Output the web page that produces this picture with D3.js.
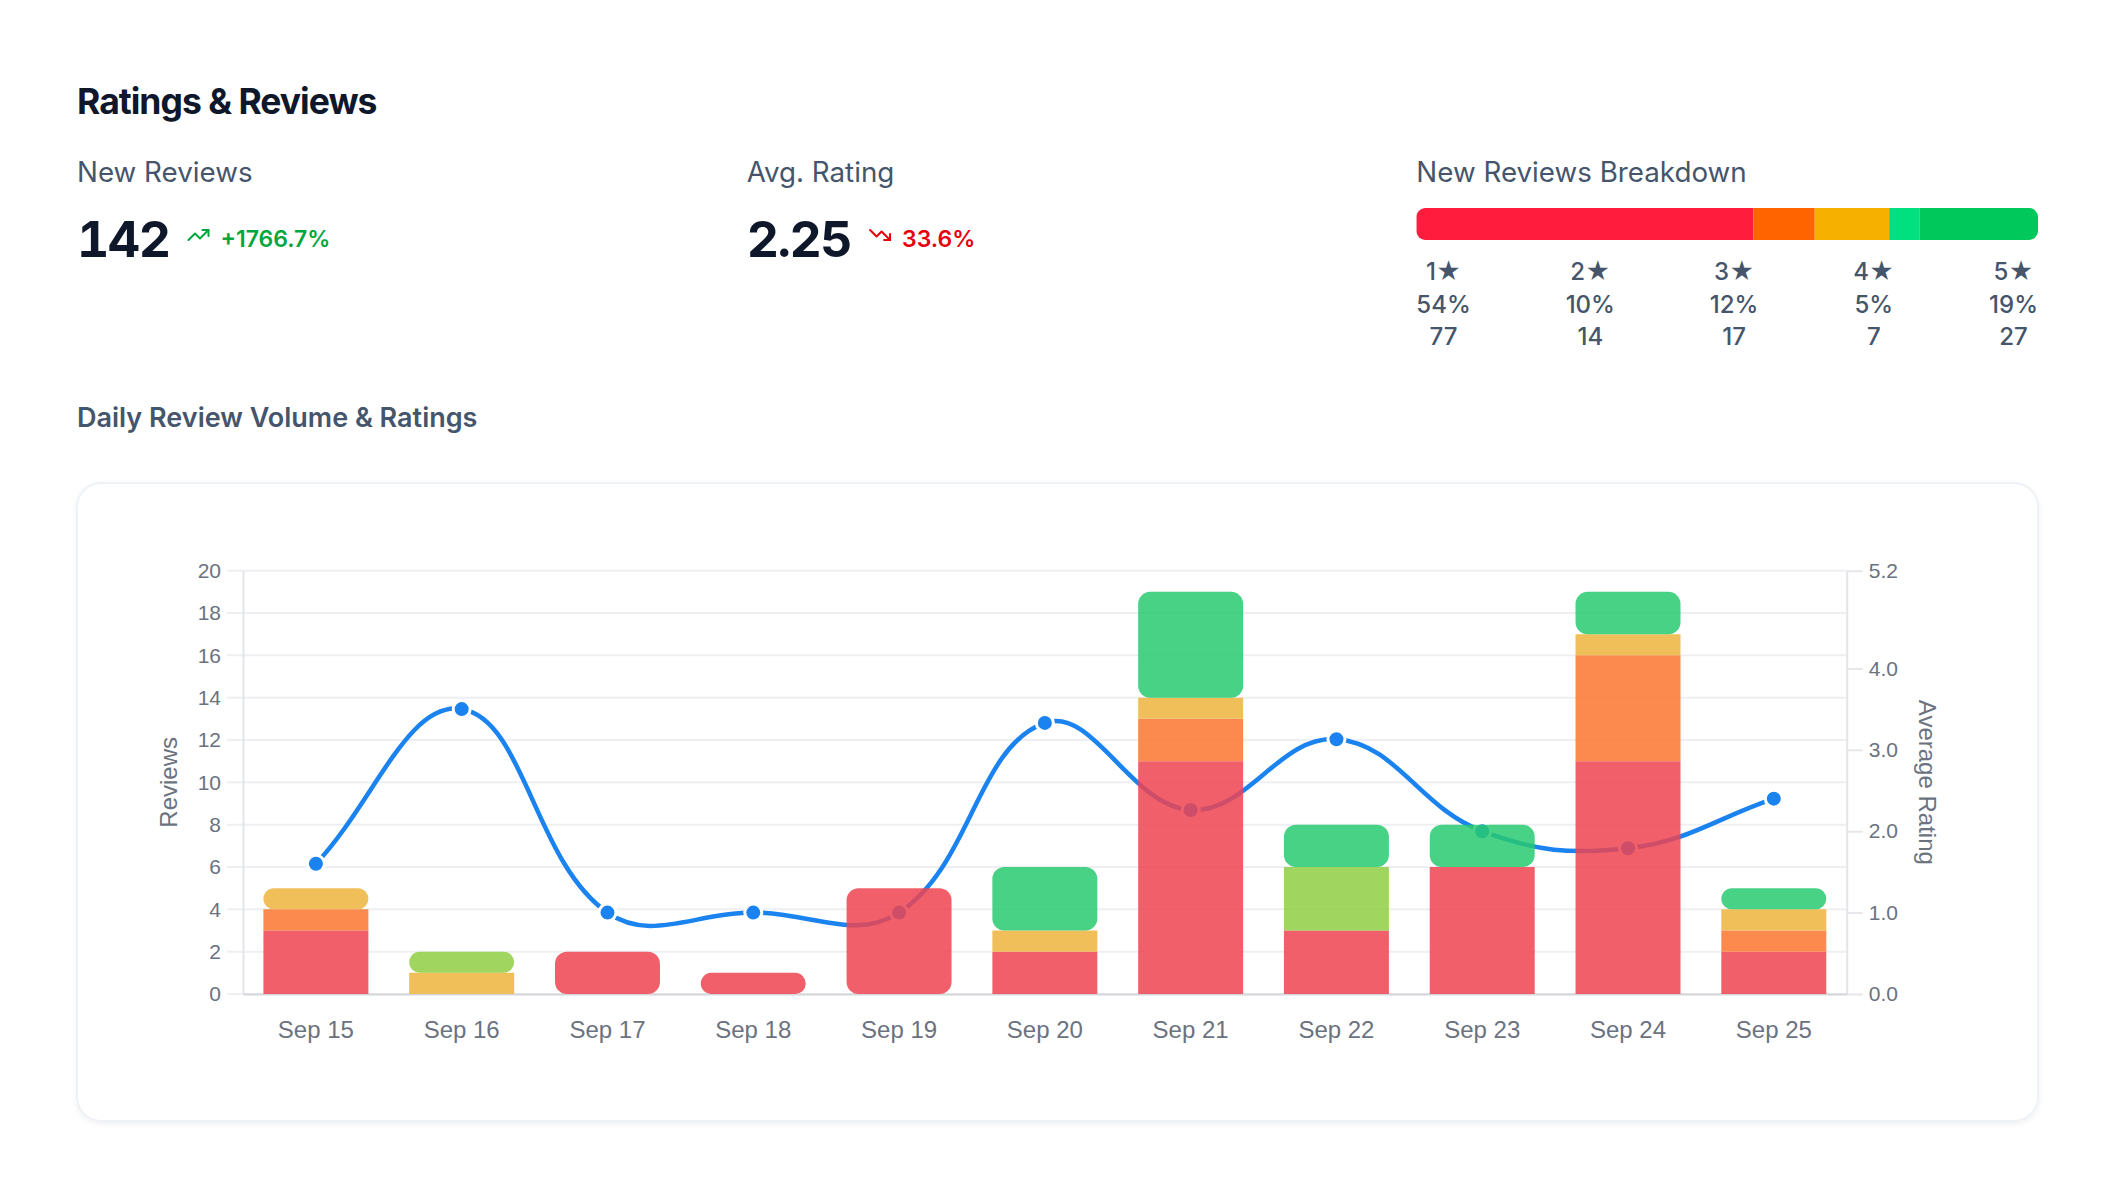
<!DOCTYPE html>
<html>
<head>
<meta charset="utf-8">
<script src="https://cdn.jsdelivr.net/npm/d3@7"></script>
<style>
  html, body { margin: 0; padding: 0; background: #fff; }
  svg { display: block; }
  .hdr { font-family: Inter, "Noto Sans", sans-serif; }
  .num { font-variant-numeric: tabular-nums; }
  .cj { font-family: "Helvetica Neue", Helvetica, Arial, "Liberation Sans", sans-serif; }
</style>
</head>
<body>
<svg id="page" width="2112" height="1196"></svg>
<script>
"use strict";

// daily data
let days = ['Sep 15', 'Sep 16', 'Sep 17', 'Sep 18', 'Sep 19', 'Sep 20', 'Sep 21', 'Sep 22', 'Sep 23', 'Sep 24', 'Sep 25'];
let oneStar   = [3, 0, 2, 1, 5, 2, 11, 3, 6, 11, 2];
let twoStar   = [1, 0, 0, 0, 0, 0, 2, 0, 0, 5, 1];
let threeStar = [1, 1, 0, 0, 0, 1, 1, 0, 0, 1, 1];
let fourStar  = [0, 1, 0, 0, 0, 0, 0, 3, 0, 0, 0];
let fiveStar  = [0, 0, 0, 0, 0, 3, 5, 2, 2, 2, 1];
let avgRating = [1.6, 3.5, 1.0, 1.0, 1.0, 3.33, 2.26, 3.13, 2.0, 1.79, 2.4];

// breakdown
let starLabels = ['1★', '2★', '3★', '4★', '5★'];
let starCounts = [77, 14, 17, 7, 27];
let barColors = ['rgb(239,68,80)', 'rgb(252,118,48)', 'rgb(238,180,61)', 'rgb(143,207,68)', 'rgb(40,202,113)'];
let breakColors = ['#ff1c3c', '#ff6400', '#f5b000', '#00e07e', '#00c85a'];

let leftTicks = d3.range(0, 21, 2);
let rightTicks = [0, 1, 2, 3, 4, 5.2];

let svg = d3.select('#page');

let defs = svg.append('defs');
defs.append('filter').attr('id', 'shadow')
  .attr('x', '-5%').attr('y', '-5%').attr('width', '110%').attr('height', '110%')
  .append('feDropShadow')
  .attr('dx', 0).attr('dy', 2).attr('stdDeviation', 2.5)
  .attr('flood-color', '#0f172a').attr('flood-opacity', 0.06);

// ---------- header ----------
let hdr = svg.append('g').attr('class', 'hdr');

hdr.append('text').attr('x', 77).attr('y', 114)
  .attr('font-size', 35.5).attr('font-weight', 700).attr('letter-spacing', -1)
  .attr('fill', '#0f172b').text('Ratings & Reviews');

let contentL = 77, contentR = 2038, colGap = 48;
let colW = (contentR - contentL - 2 * colGap) / 3;
let colX = [0, 1, 2].map(i => contentL + i * (colW + colGap));
let colLabels = ['New Reviews', 'Avg. Rating', 'New Reviews Breakdown'];
colLabels.forEach((t, i) => {
  hdr.append('text').attr('x', colX[i]).attr('y', 182)
    .attr('font-size', 27.75).attr('fill', '#45556c').text(t);
});

let bigValues = ['142', '2.25'];
let changes = ['+1766.7%', '33.6%'];
let changeColors = ['#00a63e', '#e7000b'];
let iconPts = [
  [[22, 7, 13.5, 15.5, 8.5, 10.5, 2, 17], [16, 7, 22, 7, 22, 13]],
  [[22, 17, 13.5, 8.5, 8.5, 13.5, 2, 7], [16, 17, 22, 17, 22, 11]]
];

bigValues.forEach((v, i) => {
  let big = hdr.append('text').attr('class', 'num').attr('x', colX[i]).attr('y', 257)
    .attr('font-size', 50).attr('font-weight', 700).attr('letter-spacing', -1.5)
    .attr('fill', '#0f172b').text(v);
  let w = big.node().getComputedTextLength();
  let ix = colX[i] + w + 17;
  let icon = hdr.append('g').attr('transform', 'translate(' + ix + ',223)');
  iconPts[i].forEach(p => {
    let pts = d3.range(0, p.length, 2).map(k => p[k] + ',' + p[k + 1]).join(' ');
    icon.append('polyline').attr('points', pts)
      .attr('fill', 'none').attr('stroke', changeColors[i])
      .attr('stroke-width', 2).attr('stroke-linecap', 'round').attr('stroke-linejoin', 'round');
  });
  hdr.append('text').attr('x', ix + 34).attr('y', 247)
    .attr('font-size', 23).attr('font-weight', 600)
    .attr('fill', changeColors[i]).text(changes[i]);
});

// breakdown bar
let total = d3.sum(starCounts);
let bx = d3.scaleLinear().domain([0, total]).range([colX[2], contentR]);
let starts = [0].concat(Array.from(d3.cumsum(starCounts)).slice(0, -1));

defs.append('clipPath').attr('id', 'bclip')
  .append('rect').attr('x', bx(0)).attr('y', 208)
  .attr('width', bx(total) - bx(0)).attr('height', 32).attr('rx', 9);

hdr.append('g').attr('clip-path', 'url(#bclip)')
  .selectAll('rect').data(starCounts).enter()
  .append('rect')
  .attr('x', (d, i) => bx(starts[i]))
  .attr('width', d => bx(d) - bx(0))
  .attr('y', 208).attr('height', 32)
  .attr('fill', (d, i) => breakColors[i]);

let cols = hdr.append('g').selectAll('g').data(starCounts).enter().append('g');
let rows = [
  (d, i) => starLabels[i],
  d => Math.round(d / total * 100) + '%',
  d => d
];
let rowY = [280, 312.5, 344.5];
rows.forEach((f, r) => {
  cols.append('text')
    .attr('y', rowY[r]).attr('text-anchor', 'middle')
    .attr('font-size', 24).attr('font-weight', 500)
    .attr('fill', '#45556c').text(f);
});
// justify-between layout of the columns
let widths = [];
cols.each(function () {
  let m = 0;
  d3.select(this).selectAll('text').each(function () {
    m = Math.max(m, this.getComputedTextLength());
  });
  widths.push(m);
});
let gap = (bx(total) - bx(0) - d3.sum(widths)) / (widths.length - 1);
let cx = [];
let acc = bx(0);
widths.forEach(w => { cx.push(acc + w / 2); acc += w + gap; });
cols.each(function (d, i) {
  d3.select(this).selectAll('text').attr('x', cx[i]);
});

hdr.append('text').attr('x', 77).attr('y', 427)
  .attr('font-size', 27).attr('font-weight', 600)
  .attr('fill', '#45556c').text('Daily Review Volume & Ratings');

// ---------- card ----------
svg.append('rect')
  .attr('x', contentL).attr('y', 483).attr('width', contentR - contentL).attr('height', 638)
  .attr('rx', 24).attr('fill', '#fff')
  .attr('stroke', '#eef1f5').attr('stroke-width', 2)
  .attr('filter', 'url(#shadow)');

// ---------- chart ----------
let pL = 243, pR = 1846.7, pT = 570.7, pB = 994;

let x = d3.scaleBand().domain(days).range([pL, pR]).paddingInner(0).paddingOuter(0);
let y = d3.scaleLinear().domain([0, 20]).range([pB, pT]);
let y2 = d3.scaleLinear().domain([0, 5.2]).range([pB, pT]);

let chart = svg.append('g').attr('class', 'cj');

// grid
chart.append('g').selectAll('line').data(leftTicks).enter()
  .append('line')
  .attr('x1', pL - 16).attr('x2', pR)
  .attr('y1', d => y(d)).attr('y2', d => y(d))
  .attr('stroke', '#eeeff2').attr('stroke-width', 2);

// axes
let axL = chart.append('g').attr('transform', 'translate(' + pL + ',0)')
  .call(d3.axisLeft(y).tickValues(leftTicks).tickSize(0).tickPadding(22).tickSizeOuter(0));
let axR = chart.append('g').attr('transform', 'translate(' + pR + ',0)')
  .call(d3.axisRight(y2).tickValues(rightTicks).tickFormat(d3.format('.1f')).tickSize(16).tickPadding(6).tickSizeOuter(0));
let axB = chart.append('g').attr('transform', 'translate(0,' + pB + ')')
  .call(d3.axisBottom(x).tickSize(0).tickPadding(27));

[axL, axR, axB].forEach(a => {
  a.selectAll('text').attr('fill', '#6b7280')
    .attr('font-family', '"Helvetica Neue", Helvetica, Arial, "Liberation Sans", sans-serif');
  a.selectAll('.tick line').attr('stroke', '#e5e7eb').attr('stroke-width', 2);
  a.select('.domain').attr('stroke', '#e3e5e8').attr('stroke-width', 2);
});
axL.selectAll('text').attr('font-size', 21);
axR.selectAll('text').attr('font-size', 21);
axB.selectAll('text').attr('font-size', 24);
axB.select('.domain').attr('stroke', '#d4d6da');

chart.append('text')
  .attr('transform', 'translate(177,' + ((pT + pB) / 2) + ') rotate(-90)')
  .attr('text-anchor', 'middle').attr('font-size', 24).attr('fill', '#6b7280')
  .text('Reviews');
chart.append('text')
  .attr('transform', 'translate(1919,' + ((pT + pB) / 2) + ') rotate(90)')
  .attr('text-anchor', 'middle').attr('font-size', 24).attr('fill', '#6b7280')
  .text('Average Rating');

// average rating line (Chart.js style spline, tension 0.4)
let splinePath = (pts, t) => {
  let cap = (v, lo, hi) => Math.max(lo, Math.min(hi, v));
  let cps = pts.map((p, i) => {
    let prev = pts[i - 1] || p, next = pts[i + 1] || p;
    let d01 = Math.hypot(p[0] - prev[0], p[1] - prev[1]);
    let d12 = Math.hypot(next[0] - p[0], next[1] - p[1]);
    let s01 = d01 / (d01 + d12) || 0, s12 = d12 / (d01 + d12) || 0;
    let fa = t * s01, fb = t * s12;
    let dx = next[0] - prev[0], dy = next[1] - prev[1];
    return {
      p: [cap(p[0] - fa * dx, pL, pR), cap(p[1] - fa * dy, pT, pB)],
      n: [cap(p[0] + fb * dx, pL, pR), cap(p[1] + fb * dy, pT, pB)]
    };
  });
  let path = d3.path();
  path.moveTo(pts[0][0], pts[0][1]);
  for (let i = 1; i < pts.length; i++) {
    path.bezierCurveTo(cps[i - 1].n[0], cps[i - 1].n[1], cps[i].p[0], cps[i].p[1], pts[i][0], pts[i][1]);
  }
  return path.toString();
};

let linePts = avgRating.map((v, i) => [x(days[i]) + x.bandwidth() / 2, y2(v)]);
let blue = '#1a83ef';

chart.append('path')
  .attr('d', splinePath(linePts, 0.4))
  .attr('fill', 'none').attr('stroke', blue).attr('stroke-width', 4.5);

chart.append('g').selectAll('circle').data(linePts).enter()
  .append('circle')
  .attr('cx', d => d[0]).attr('cy', d => d[1]).attr('r', 8.5)
  .attr('fill', blue).attr('stroke', '#fff').attr('stroke-width', 3);

// stacked bars
let series = [oneStar, twoStar, threeStar, fourStar, fiveStar];
let stackData = days.map((d, i) => ({ day: d, s0: oneStar[i], s1: twoStar[i], s2: threeStar[i], s3: fourStar[i], s4: fiveStar[i] }));
let stacked = d3.stack().keys(['s0', 's1', 's2', 's3', 's4'])(stackData);
let barW = x.bandwidth() * 0.72;

let roundRect = (x0, y0, w, h, r) => {
  r = Math.min(r, h / 2, w / 2);
  let p = d3.path();
  p.moveTo(x0 + r, y0);
  p.lineTo(x0 + w - r, y0);
  p.arcTo(x0 + w, y0, x0 + w, y0 + r, r);
  p.lineTo(x0 + w, y0 + h - r);
  p.arcTo(x0 + w, y0 + h, x0 + w - r, y0 + h, r);
  p.lineTo(x0 + r, y0 + h);
  p.arcTo(x0, y0 + h, x0, y0 + h - r, r);
  p.lineTo(x0, y0 + r);
  p.arcTo(x0, y0, x0 + r, y0, r);
  p.closePath();
  return p.toString();
};

let bars = chart.append('g').attr('fill-opacity', 0.85);
stacked.forEach((layer, k) => {
  bars.append('g').attr('fill', barColors[k])
    .selectAll('path').data(layer.filter(d => d[1] > d[0])).enter()
    .append('path')
    .attr('d', d => {
      let x0 = x(d.data.day) + (x.bandwidth() - barW) / 2;
      let y0 = y(d[1]), h = y(d[0]) - y(d[1]);
      // the top segment of each stack gets rounded corners
      let topTotal = series.reduce((s, a) => s + a[days.indexOf(d.data.day)], 0);
      let r = d[1] === topTotal ? 12 : 0;
      return roundRect(x0, y0, barW, h, r);
    });
});
</script>
</body>
</html>
